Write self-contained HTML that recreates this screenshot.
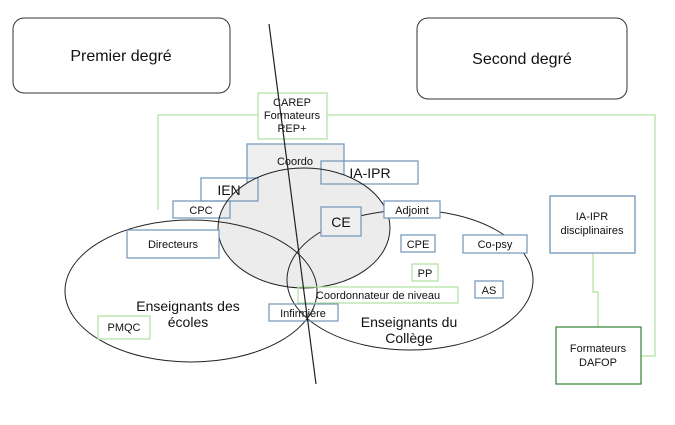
<!DOCTYPE html>
<html><head><meta charset="utf-8"><style>
body{margin:0;background:#fff;}
svg text{font-family:"Liberation Sans",sans-serif;fill:#111;}
</style></head><body>
<svg width="675" height="420" viewBox="0 0 675 420" xmlns="http://www.w3.org/2000/svg">
<rect x="0" y="0" width="675" height="420" fill="#fff"/>
<rect x="13" y="18" width="217" height="75" rx="11" fill="#fff" stroke="#333" stroke-width="1"/>
<text x="121" y="61" font-size="16" text-anchor="middle">Premier degré</text>
<rect x="417" y="18" width="210" height="81" rx="11" fill="#fff" stroke="#333" stroke-width="1"/>
<text x="522" y="64" font-size="16" text-anchor="middle">Second degré</text>
<polyline points="158,210 158,115 655,115 655,356 641,356" fill="none" stroke="#b5e3a3" stroke-width="1.3"/>
<polyline points="593,253 593,292 598,292 598,327" fill="none" stroke="#b5e3a3" stroke-width="1.3"/>
<rect x="258" y="93" width="69" height="46" fill="#fff" stroke="#b5e3a3" stroke-width="1.3"/>
<text x="292" y="106" font-size="11" text-anchor="middle">CAREP</text>
<text x="292" y="119" font-size="11" text-anchor="middle">Formateurs</text>
<text x="292" y="132" font-size="11" text-anchor="middle">REP+</text>
<rect x="247" y="144" width="97" height="40" fill="#efefef" stroke="#6f94b8" stroke-width="1.2"/>
<ellipse cx="304" cy="228" rx="86" ry="60" fill="#ececec" stroke="none"/>
<text x="295" y="165" font-size="11" text-anchor="middle">Coordo</text>
<rect x="201" y="178" width="57" height="23" fill="none" stroke="#6f94b8" stroke-width="1.2"/>
<text x="229" y="195" font-size="14" text-anchor="middle">IEN</text>
<rect x="173" y="201" width="57" height="17" fill="none" stroke="#6f94b8" stroke-width="1.2"/>
<text x="201" y="214" font-size="11" text-anchor="middle">CPC</text>
<rect x="321" y="161" width="97" height="23" fill="none" stroke="#6f94b8" stroke-width="1.2"/>
<text x="370" y="178" font-size="14" text-anchor="middle">IA-IPR</text>
<ellipse cx="304" cy="228" rx="86" ry="60" fill="none" stroke="#222" stroke-width="1"/>
<ellipse cx="191" cy="291" rx="126" ry="71" fill="none" stroke="#222" stroke-width="1"/>
<ellipse cx="410" cy="280" rx="123" ry="70" fill="none" stroke="#222" stroke-width="1"/>
<rect x="321" y="207" width="40" height="29" fill="#efefef" stroke="#6f94b8" stroke-width="1.2"/>
<text x="341" y="227" font-size="14" text-anchor="middle">CE</text>
<rect x="384" y="201" width="56" height="17" fill="#fff" stroke="#6f94b8" stroke-width="1.2"/>
<text x="412" y="214" font-size="11" text-anchor="middle">Adjoint</text>
<rect x="401" y="235" width="34" height="17" fill="#fff" stroke="#6f94b8" stroke-width="1.2"/>
<text x="418" y="248" font-size="11" text-anchor="middle">CPE</text>
<rect x="463" y="235" width="64" height="18" fill="#fff" stroke="#6f94b8" stroke-width="1.2"/>
<text x="495" y="248" font-size="11" text-anchor="middle">Co-psy</text>
<rect x="127" y="230" width="92" height="28" fill="#fff" stroke="#6f94b8" stroke-width="1.2"/>
<text x="173" y="248" font-size="11" text-anchor="middle">Directeurs</text>
<rect x="412" y="264" width="26" height="17" fill="#fff" stroke="#b5e3a3" stroke-width="1.3"/>
<text x="425" y="277" font-size="11" text-anchor="middle">PP</text>
<rect x="475" y="281" width="28" height="17" fill="#fff" stroke="#6f94b8" stroke-width="1.2"/>
<text x="489" y="294" font-size="11" text-anchor="middle">AS</text>
<rect x="298" y="287" width="160" height="16" fill="none" stroke="#b5e3a3" stroke-width="1.3"/>
<text x="378" y="299" font-size="11" text-anchor="middle">Coordonnateur de niveau</text>
<rect x="269" y="304" width="69" height="17" fill="none" stroke="#6f94b8" stroke-width="1.2"/>
<text x="303" y="317" font-size="11" text-anchor="middle">Infirmière</text>
<rect x="98" y="316" width="52" height="23" fill="#fff" stroke="#b5e3a3" stroke-width="1.3"/>
<text x="124" y="331" font-size="11" text-anchor="middle">PMQC</text>
<text x="188" y="311" font-size="14" text-anchor="middle">Enseignants des</text>
<text x="188" y="327" font-size="14" text-anchor="middle">écoles</text>
<text x="409" y="327" font-size="14" text-anchor="middle">Enseignants du</text>
<text x="409" y="343" font-size="14" text-anchor="middle">Collège</text>
<rect x="550" y="196" width="85" height="57" fill="#fff" stroke="#6f94b8" stroke-width="1.3"/>
<text x="592" y="220" font-size="11" text-anchor="middle">IA-IPR</text>
<text x="592" y="234" font-size="11" text-anchor="middle">disciplinaires</text>
<rect x="556" y="327" width="85" height="57" fill="#fff" stroke="#3f8a3f" stroke-width="1.3"/>
<text x="598" y="352" font-size="11" text-anchor="middle">Formateurs</text>
<text x="598" y="366" font-size="11" text-anchor="middle">DAFOP</text>
<line x1="269" y1="24" x2="316" y2="384" stroke="#222" stroke-width="1.2"/>
</svg>
</body></html>
